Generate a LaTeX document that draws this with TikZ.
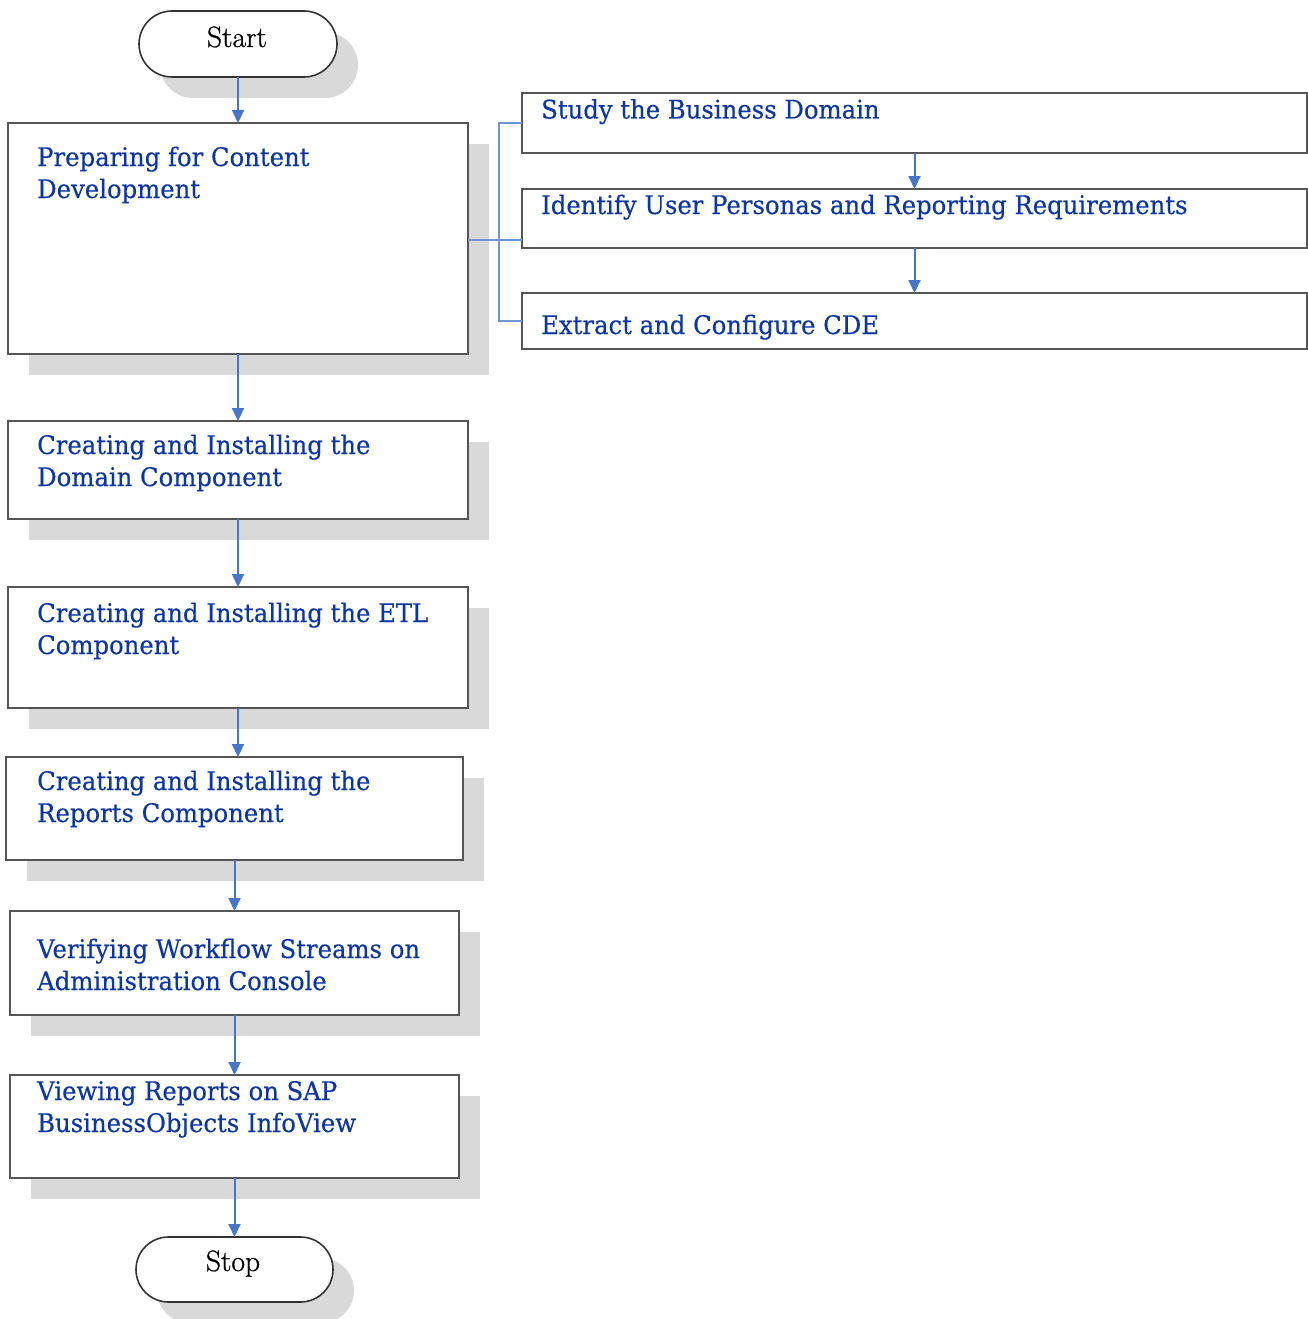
\documentclass[tikz,border=0pt]{standalone}
\usepackage{fontspec}
\usetikzlibrary{shapes.misc,shadows,arrows.meta}
\newfontfamily\bluefont[FakeStretch=0.95,FakeBold=0.4]{DejaVu Serif}
\newfontfamily\termfont[FakeBold=0.8]{Latin Modern Roman}
\definecolor{textblue}{RGB}{14,54,158}
\definecolor{arrowblue}{RGB}{72,118,196}
\definecolor{bracketblue}{RGB}{110,150,212}
\definecolor{boxgray}{RGB}{85,85,85}
\definecolor{shadowgray}{RGB}{217,217,217}
\tikzset{
  sh/.style={drop shadow={shadow xshift=21pt, shadow yshift=-21pt, fill=shadowgray, opacity=1}},
  box/.style={draw=boxgray, line width=2.6pt, fill=white, rectangle, inner sep=0pt, outer sep=0pt},
  term/.style={draw=black!80, line width=1.6pt, fill=white, rounded rectangle, inner sep=0pt, outer sep=0pt, minimum height=66pt},
  lbl/.style={text=textblue, font=\bluefont\fontsize{25.6}{32}\selectfont, anchor=base west, inner sep=0pt, align=left},
  tlbl/.style={font=\termfont\fontsize{29.5}{32}\selectfont, anchor=base, inner sep=0pt},
  flow/.style={draw=arrowblue, line width=2pt, -{Triangle[width=12pt,length=13pt]}},
  brk/.style={draw=bracketblue, line width=2pt}
}
\begin{document}
\begin{tikzpicture}[x=1pt,y=-1pt]
\useasboundingbox (0,0) rectangle (1308,1319);
% left column
\node[term, sh, minimum width=198pt] (start) at (238,44) {};
\node[tlbl] (starttxt) at (237,47) {Start};
\node[box, sh, minimum width=460pt, minimum height=231pt] (b1) at (238,238.5) {};
\node[box, sh, minimum width=460pt, minimum height=98pt] (b2) at (238,470) {};
\node[box, sh, minimum width=460pt, minimum height=121pt] (b3) at (238,647.5) {};
\node[box, sh, minimum width=457pt, minimum height=103pt] (b4) at (234.5,808.5) {};
\node[box, sh, minimum width=449pt, minimum height=104pt] (b5) at (234.5,963) {};
\node[box, sh, minimum width=449pt, minimum height=103pt] (b6) at (234.5,1126.5) {};
\node[term, sh, minimum width=197pt, minimum height=65pt] (stop) at (234.5,1269.5) {};
\node[tlbl] (stoptxt) at (233,1271) {Stop};
% right column
\node[box, minimum width=785pt, minimum height=60pt] (r1) at (914.5,123) {};
\node[box, minimum width=785pt, minimum height=59pt] (r2) at (914.5,218.5) {};
\node[box, minimum width=785pt, minimum height=56pt] (r3) at (914.5,321) {};
% labels (anchor = baseline of the last line)
\node[lbl] (t1) at (37,198) {Preparing for Content\\Development};
\node[lbl] (t2) at (37,486) {Creating and Installing the\\Domain Component};
\node[lbl] (t3) at (37,654) {Creating and Installing the ETL\\Component};
\node[lbl] (t4) at (37,822) {Creating and Installing the\\Reports Component};
\node[lbl] (t5) at (37,990) {Verifying Workflow Streams on\\Administration Console};
\node[lbl] (t6) at (37,1132) {Viewing Reports on SAP\\BusinessObjects InfoView};
\node[lbl] (tr1) at (541,118.5) {Study the Business Domain};
\node[lbl] (tr2) at (541,214) {Identify User Personas and Reporting Requirements};
\node[lbl] (tr3) at (541,334) {Extract and Configure CDE};
% connectors
\draw[flow] (start) -- (b1);
\draw[flow] (b1) -- (b2);
\draw[flow] (b2) -- (b3);
\draw[flow] (b3.south) -- (b3.south |- b4.north);
\draw[flow] (b4) -- (b5);
\draw[flow] (b5) -- (b6);
\draw[flow] (b6) -- (stop);
\draw[flow] (r1) -- (r2);
\draw[flow] (r2) -- (r3);
\coordinate (j) at (499,240);
\draw[brk] (b1.east |- j) -- (r2.west |- j);
\draw[brk] (r1.west) -- (j |- r1.west) -- (j |- r3.west) -- (r3.west);
\end{tikzpicture}
\end{document}
